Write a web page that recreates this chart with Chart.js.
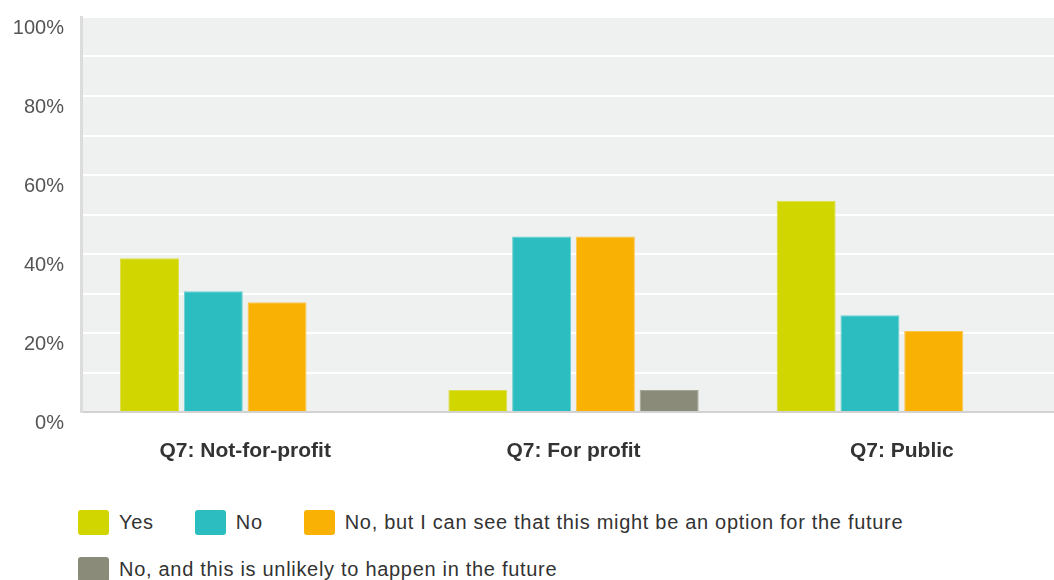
<!DOCTYPE html>
<html>
<head>
<meta charset="utf-8">
<script src="https://cdn.jsdelivr.net/npm/chart.js@4.4.0/dist/chart.umd.min.js"></script>
<style>
  html, body { margin: 0; padding: 0; background: #fff; overflow: hidden; width: 1054px; height: 580px; }
  #wrap { position: absolute; left: 0; top: 0; width: 1066px; height: 480px; }
  #legend { position: absolute; left: 78px; top: 510px; width: 970px; display: flex; flex-wrap: wrap;
            column-gap: 41px; row-gap: 22px; font-family: "Liberation Sans", Arial, sans-serif; font-size: 20px;
            letter-spacing: 0.7px; color: #333; }
  .item { display: flex; align-items: center; height: 25px; }
  .box { width: 31px; height: 25px; border-radius: 3px; margin-right: 10px; }
</style>
</head>
<body>
<div id="wrap"><canvas id="surveyChart" width="1066" height="480"></canvas></div>
<div id="legend"></div>
<script>
// categories and series (percent of respondents)
const categories = ["Q7: Not-for-profit", "Q7: For profit", "Q7: Public"];
const seriesNames = [
  "Yes",
  "No",
  "No, but I can see that this might be an option for the future",
  "No, and this is unlikely to happen in the future"
];
const yesValues = [38.9, 5.56, 53.5];
const noValues = [30.6, 44.44, 24.5];
const maybeLaterValues = [27.8, 44.44, 20.5];
const unlikelyValues = [0, 5.56, 0];
const seriesColors = ["#d2d600", "#2bbdbf", "#f9b104", "#8a8b79"];
const seriesBorders = ["#dcdf4a", "#6cd0d2", "#fbc64c", "#a4a595"];

const yTickStep = 10;

const plotBackground = {
  id: "plotBackground",
  beforeDraw(chart) {
    const {ctx, chartArea} = chart;
    ctx.save();
    ctx.fillStyle = "#eff0f0";
    ctx.fillRect(chartArea.left, chartArea.top, chartArea.right - chartArea.left, chartArea.bottom - chartArea.top);
    ctx.restore();
  }
};

const allValues = [yesValues, noValues, maybeLaterValues, unlikelyValues];
const datasets = seriesNames.map((name, i) => ({
  label: name,
  data: allValues[i],
  backgroundColor: seriesColors[i],
  borderColor: seriesBorders[i],
  borderWidth: 1,
  barPercentage: 0.925,
  categoryPercentage: 0.777
}));

const chart = new Chart(document.getElementById("surveyChart"), {
  type: "bar",
  data: { labels: categories, datasets: datasets },
  options: {
    responsive: false,
    animation: false,
    layout: { padding: { top: 17, right: 0, bottom: 0, left: 0 } },
    plugins: {
      legend: { display: false },
      tooltip: { enabled: false }
    },
    scales: {
      x: {
        grid: { display: false },
        border: { display: true, color: "#d2d2d2", width: 2 },
        ticks: {
          color: "#333",
          padding: 19,
          font: { family: "'Liberation Sans', Arial, sans-serif", size: 21, weight: "bold" }
        },
        afterFit: (scale) => { scale.height = 68; }
      },
      y: {
        min: 0,
        max: 100,
        grid: { color: "#ffffff", lineWidth: 2, drawTicks: false },
        border: { display: true, color: "#dcdcdc", width: 3 },
        ticks: {
          stepSize: yTickStep,
          color: "#555",
          padding: 17,
          labelOffset: 11,
          font: { family: "'Liberation Sans', Arial, sans-serif", size: 20 },
          callback: (v) => (v % 20 === 0 ? v + "%" : "")
        },
        afterFit: (scale) => {
          scale.width = 81;
          scale.paddingTop = 0;
          scale.paddingBottom = 0;
        }
      }
    }
  },
  plugins: [plotBackground]
});

// html legend built from the chart datasets
const legendEl = document.getElementById("legend");
chart.data.datasets.forEach((ds) => {
  const item = document.createElement("div");
  item.className = "item";
  const box = document.createElement("span");
  box.className = "box";
  box.style.background = ds.backgroundColor;
  const txt = document.createElement("span");
  txt.textContent = ds.label;
  item.appendChild(box);
  item.appendChild(txt);
  legendEl.appendChild(item);
});
</script>
</body>
</html>
